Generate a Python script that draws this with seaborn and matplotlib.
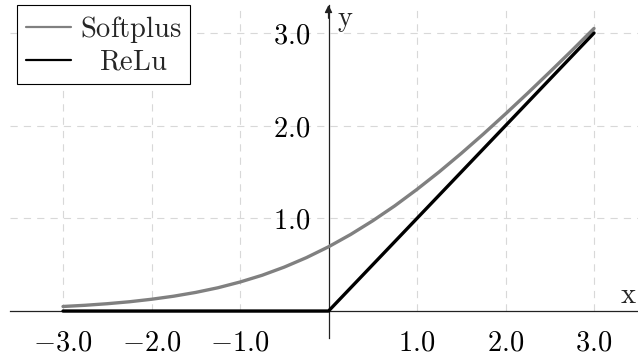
import matplotlib
matplotlib.use("Agg")
import matplotlib.pyplot as plt
import matplotlib.transforms as mtransforms
import seaborn as sns
import pandas as pd

# ---- data ----
softplus_x = [-3.0, -2.75, -2.5, -2.25, -2.0, -1.75, -1.5, -1.25, -1.0, -0.75, -0.5, -0.25,
              0.0, 0.25, 0.5, 0.75, 1.0, 1.25, 1.5, 1.75, 2.0, 2.25, 2.5, 2.75, 3.0]
softplus_y = [0.049, 0.062, 0.079, 0.100, 0.127, 0.160, 0.201, 0.251, 0.313, 0.386, 0.474, 0.576,
              0.693, 0.826, 0.974, 1.136, 1.313, 1.501, 1.701, 1.910, 2.127, 2.350, 2.579, 2.811, 3.049]
relu_x = [-3.0, 0.0, 3.0]
relu_y = [0.0, 0.0, 3.0]
series_names = ["Softplus", "ReLu"]
x_ticks = [-3.0, -2.0, -1.0, 1.0, 2.0, 3.0]
x_tick_labels = ["$-3.0$", "$-2.0$", "$-1.0$", "$1.0$", "$2.0$", "$3.0$"]
y_ticks = [1.0, 2.0, 3.0]
y_tick_labels = ["$1.0$", "$2.0$", "$3.0$"]

sns.set_style("white")
plt.rcParams["mathtext.fontset"] = "cm"
plt.rcParams["font.family"] = ["DejaVu Serif"]

df = pd.concat([
    pd.DataFrame({"x": softplus_x, "y": softplus_y, "f": series_names[0]}),
    pd.DataFrame({"x": relu_x, "y": relu_y, "f": series_names[1]}),
])

FS = 20.5
W, H = 638, 358
fig = plt.figure(figsize=(W / 100, H / 100), dpi=100)
ax = fig.add_axes([10 / W, 20 / H, 628 / W, 333 / H])

sns.lineplot(data=df, x="x", y="y", hue="f", hue_order=series_names,
             palette={"Softplus": "#808080", "ReLu": "#000000"},
             linewidth=2.4, ax=ax, legend=True, zorder=3)

xlo, xhi = -3.599, 3.497
ylo, yhi = -0.291, 3.302
ax.set_xlim(xlo, xhi)
ax.set_ylim(ylo, yhi)

# grid
grid_kw = dict(color="#d8d8d8", linewidth=0.8, linestyles=(0, (6.5, 5.5)), zorder=0)
ax.vlines(x_ticks, 0, yhi, **grid_kw)
ax.hlines(y_ticks, xlo, xhi, **grid_kw)

# axes in the middle
for s in ["top", "right"]:
    ax.spines[s].set_visible(False)
ax.spines["left"].set_position(("data", 0))
ax.spines["bottom"].set_position(("data", 0))
for s in ["left", "bottom"]:
    ax.spines[s].set_color("#222222")
    ax.spines[s].set_linewidth(0.9)
    ax.spines[s].set_zorder(2)

ax.annotate("", xy=(0, 1.0), xycoords=("data", "axes fraction"),
            xytext=(0, 0.96), textcoords=("data", "axes fraction"),
            arrowprops=dict(arrowstyle="-|>", color="#222222", lw=0.9,
                            mutation_scale=11, shrinkA=0, shrinkB=0))

ax.set_xticks(x_ticks)
ax.set_xticklabels(x_tick_labels)
ax.set_yticks(y_ticks)
ax.set_yticklabels(y_tick_labels)
ax.tick_params(axis="both", direction="out", length=8.5, width=0.8, color="#909090",
               labelsize=FS, labelcolor="black")
ax.tick_params(axis="x", pad=5)
ax.tick_params(axis="y", pad=5)
ax.set_xlabel("")
ax.set_ylabel("")

ax.text(3.384, 0.17, r"$\mathrm{x}$", fontsize=FS, ha="center", va="center")
ax.text(0.186, 3.14, r"$\mathrm{y}$", fontsize=FS, ha="center", va="center")

handles, labels = ax.get_legend_handles_labels()
leg = ax.legend(handles, [r"$\mathrm{Softplus}$", r"$\mathrm{ReLu}$"],
                loc="upper left", bbox_to_anchor=(7 / 628, 1.0), borderaxespad=0,
                frameon=True, fancybox=False, edgecolor="black", framealpha=1,
                fontsize=FS, handlelength=1.6, handletextpad=0.3, borderpad=0.3,
                labelspacing=0.15)
leg.get_frame().set_linewidth(0.8)
for line in leg.get_lines():
    line.set_linewidth(1.6)
# center the shorter label like the reference
t = leg.get_texts()[1]
t.set_transform(t.get_transform() + mtransforms.Affine2D().translate(19, 0))

fig.savefig("out.png", dpi=100)
